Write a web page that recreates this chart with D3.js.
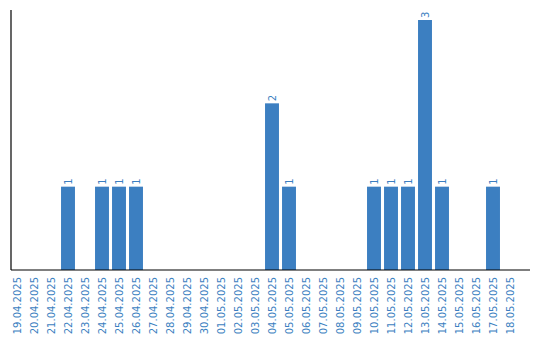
<!DOCTYPE html>
<html>
<head>
<meta charset="utf-8">
<script src="https://cdn.jsdelivr.net/npm/d3@7"></script>
<style>
  body { margin: 0; background: #fff; }
  text { font-family: "DejaVu Sans", Verdana, sans-serif; }
</style>
</head>
<body>
<svg id="chart"></svg>
<script>
const width = 540, height = 340;
const margin = { top: 10, bottom: 70, left: 11, right: 10 };

// Data
const dates = ["19.04.2025", "20.04.2025", "21.04.2025", "22.04.2025", "23.04.2025",
  "24.04.2025", "25.04.2025", "26.04.2025", "27.04.2025", "28.04.2025",
  "29.04.2025", "30.04.2025", "01.05.2025", "02.05.2025", "03.05.2025",
  "04.05.2025", "05.05.2025", "06.05.2025", "07.05.2025", "08.05.2025",
  "09.05.2025", "10.05.2025", "11.05.2025", "12.05.2025", "13.05.2025",
  "14.05.2025", "15.05.2025", "16.05.2025", "17.05.2025", "18.05.2025"];
const counts = [0, 0, 0, 1, 0, 1, 1, 1, 0, 0,
  0, 0, 0, 0, 0, 2, 1, 0, 0, 0,
  0, 1, 1, 1, 3, 1, 0, 0, 1, 0];

const data = dates.map((d, i) => ({ date: d, value: counts[i] }));
const barColor = "#3c7fc1";

const svg = d3.select("#chart")
  .attr("width", width)
  .attr("height", height);

const xScale = d3.scaleBand()
  .domain(dates)
  .range([8.5, 518.5])
  .paddingInner(0.18)
  .paddingOuter(0.09);

const yScale = d3.scaleLinear()
  .domain([0, 3.12])
  .range([height - margin.bottom, margin.top]);

// Bars
svg.selectAll("rect.bar")
  .data(data.filter(d => d.value > 0))
  .enter().append("rect")
  .attr("class", "bar")
  .attr("x", d => xScale(d.date))
  .attr("y", d => yScale(d.value))
  .attr("width", xScale.bandwidth())
  .attr("height", d => yScale(0) - yScale(d.value))
  .attr("fill", barColor);

// Value labels (rotated)
svg.selectAll("text.val")
  .data(data.filter(d => d.value > 0))
  .enter().append("text")
  .attr("class", "val")
  .attr("transform", d => `translate(${xScale(d.date) + xScale.bandwidth() / 2 + 4}, ${yScale(d.value) - 2}) rotate(-90)`)
  .attr("text-anchor", "start")
  .style("font-size", "10px")
  .attr("fill", barColor)
  .text(d => d.value);

// X axis
const xAxis = svg.append("g")
  .attr("transform", `translate(0, ${height - margin.bottom})`)
  .call(d3.axisBottom(xScale).tickSize(0).tickPadding(0));
xAxis.select(".domain").remove();
xAxis.selectAll("text")
  .attr("transform", "translate(4, 7) rotate(-90)")
  .attr("x", 0)
  .attr("y", 0)
  .attr("dy", 0)
  .style("text-anchor", "end")
  .style("font-size", "10px")
  .style("font-family", "DejaVu Sans, sans-serif")
  .attr("fill", barColor);

// Axis lines
svg.append("line")
  .attr("x1", margin.left).attr("x2", width - margin.right)
  .attr("y1", yScale(0)).attr("y2", yScale(0))
  .attr("stroke", "#000").attr("stroke-width", 1.2);
svg.append("line")
  .attr("x1", margin.left).attr("x2", margin.left)
  .attr("y1", margin.top).attr("y2", yScale(0))
  .attr("stroke", "#000").attr("stroke-width", 1.2);
</script>
</body>
</html>
